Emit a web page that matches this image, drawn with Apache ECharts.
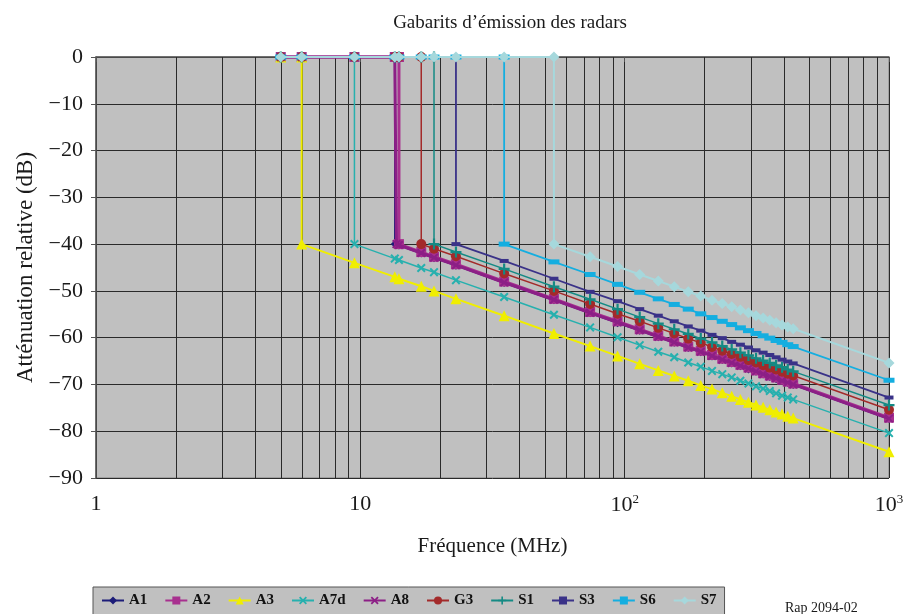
<!DOCTYPE html>
<html><head><meta charset="utf-8">
<script src="https://cdn.jsdelivr.net/npm/echarts@6/dist/echarts.min.js"></script>
<style>html,body{margin:0;padding:0;background:#fff}#c{width:908px;height:614px}</style>
</head><body><div id="c"></div>
<script>
const TITLE = 'Gabarits d’émission des radars';
const X_NAME = 'Fréquence (MHz)';
const Y_NAME = 'Atténuation relative (dB)';
const NOTE = 'Rap 2094-02';
const SERIES_NAMES = ['A1', 'A2', 'A3', 'A7d', 'A8', 'G3', 'S1', 'S3', 'S6', 'S7'];
const X_TICK_LABELS = { 0: '1', 1: '10', 2: '10{s|2}', 3: '10{s|3}' };
const MINOR_GRID_FREQS = [2, 3, 4, 5, 6, 7, 8, 9, 20, 30, 40, 50, 60, 70, 80, 90, 200, 300, 400, 500, 600, 700, 800, 900];

const A1 = [[5,0],[6,0],[9.5,0],[13.5,0],[13.5,-40],[14,-40.3],[17,-42.0],[19,-43.0],[23,-44.6],[35,-48.3],[54,-52.0],[74,-54.8],[94,-56.9],[114,-58.5],[134,-59.9],[154,-61.1],[174,-62.2],[194,-63.1],[214,-64.0],[234,-64.8],[254,-65.5],[274,-66.1],[294,-66.8],[314,-67.3],[334,-67.9],[354,-68.4],[374,-68.9],[394,-69.3],[414,-69.7],[434,-70.1],[1000,-77.4]];
const A2 = [[5,0],[6,0],[9.5,0],[13.5,0],[14,0],[14,-40],[17,-41.7],[19,-42.7],[23,-44.3],[35,-48.0],[54,-51.7],[74,-54.5],[94,-56.5],[114,-58.2],[134,-59.6],[154,-60.8],[174,-61.9],[194,-62.8],[214,-63.7],[234,-64.5],[254,-65.2],[274,-65.8],[294,-66.4],[314,-67.0],[334,-67.6],[354,-68.1],[374,-68.5],[394,-69.0],[414,-69.4],[434,-69.8],[1000,-77.1]];
const A3 = [[5,0],[6,0],[6,-40],[9.5,-44.0],[13.5,-47.0],[14,-47.4],[17,-49.0],[19,-50.0],[23,-51.7],[35,-55.3],[54,-59.1],[74,-61.8],[94,-63.9],[114,-65.6],[134,-67.0],[154,-68.2],[174,-69.2],[194,-70.2],[214,-71.0],[234,-71.8],[254,-72.5],[274,-73.2],[294,-73.8],[314,-74.4],[334,-74.9],[354,-75.4],[374,-75.9],[394,-76.3],[414,-76.8],[434,-77.2],[1000,-84.4]];
const A7d = [[5,0],[6,0],[9.5,0],[9.5,-40],[13.5,-43.1],[14,-43.4],[17,-45.1],[19,-46.0],[23,-47.7],[35,-51.3],[54,-55.1],[74,-57.8],[94,-59.9],[114,-61.6],[134,-63.0],[154,-64.2],[174,-65.3],[194,-66.2],[214,-67.1],[234,-67.8],[254,-68.5],[274,-69.2],[294,-69.8],[314,-70.4],[334,-70.9],[354,-71.4],[374,-71.9],[394,-72.4],[414,-72.8],[434,-73.2],[1000,-80.4]];
const A8 = [[5,0],[6,0],[9.5,0],[13.5,0],[13.7,0],[13.7,-40],[14,-40.2],[17,-41.9],[19,-42.9],[23,-44.5],[35,-48.2],[54,-51.9],[74,-54.7],[94,-56.7],[114,-58.4],[134,-59.8],[154,-61.0],[174,-62.1],[194,-63.0],[214,-63.9],[234,-64.7],[254,-65.4],[274,-66.0],[294,-66.6],[314,-67.2],[334,-67.8],[354,-68.3],[374,-68.7],[394,-69.2],[414,-69.6],[434,-70.0],[1000,-77.3]];
const G3 = [[5,0],[6,0],[9.5,0],[13.5,0],[14,0],[17,0],[17,-40],[19,-41.0],[23,-42.6],[35,-46.3],[54,-50.0],[74,-52.8],[94,-54.9],[114,-56.5],[134,-57.9],[154,-59.1],[174,-60.2],[194,-61.1],[214,-62.0],[234,-62.8],[254,-63.5],[274,-64.1],[294,-64.8],[314,-65.3],[334,-65.9],[354,-66.4],[374,-66.8],[394,-67.3],[414,-67.7],[434,-68.1],[1000,-75.4]];
const S1 = [[5,0],[6,0],[9.5,0],[13.5,0],[14,0],[17,0],[19,0],[19,-40],[23,-41.7],[35,-45.3],[54,-49.1],[74,-51.8],[94,-53.9],[114,-55.6],[134,-57.0],[154,-58.2],[174,-59.2],[194,-60.2],[214,-61.0],[234,-61.8],[254,-62.5],[274,-63.2],[294,-63.8],[314,-64.4],[334,-64.9],[354,-65.4],[374,-65.9],[394,-66.3],[414,-66.8],[434,-67.2],[1000,-74.4]];
const S3 = [[5,0],[6,0],[9.5,0],[13.5,0],[14,0],[17,0],[19,0],[23,0],[23,-40],[35,-43.6],[54,-47.4],[74,-50.2],[94,-52.2],[114,-53.9],[134,-55.3],[154,-56.5],[174,-57.6],[194,-58.5],[214,-59.4],[234,-60.1],[254,-60.9],[274,-61.5],[294,-62.1],[314,-62.7],[334,-63.2],[354,-63.7],[374,-64.2],[394,-64.7],[414,-65.1],[434,-65.5],[1000,-72.8]];
const S6 = [[5,0],[6,0],[9.5,0],[13.5,0],[14,0],[17,0],[19,0],[23,0],[35,0],[35,-40],[54,-43.8],[74,-46.5],[94,-48.6],[114,-50.3],[134,-51.7],[154,-52.9],[174,-53.9],[194,-54.9],[214,-55.7],[234,-56.5],[254,-57.2],[274,-57.9],[294,-58.5],[314,-59.1],[334,-59.6],[354,-60.1],[374,-60.6],[394,-61.0],[414,-61.5],[434,-61.9],[1000,-69.1]];
const S7 = [[5,0],[6,0],[9.5,0],[13.5,0],[14,0],[17,0],[19,0],[23,0],[35,0],[54,0],[54,-40],[74,-42.7],[94,-44.8],[114,-46.5],[134,-47.9],[154,-49.1],[174,-50.2],[194,-51.1],[214,-52.0],[234,-52.7],[254,-53.4],[274,-54.1],[294,-54.7],[314,-55.3],[334,-55.8],[354,-56.3],[374,-56.8],[394,-57.3],[414,-57.7],[434,-58.1],[1000,-65.4]];

const SERIES_DATA = [A1, A2, A3, A7d, A8, G3, S1, S3, S6, S7];

const X_PATH = 'path://M0,1.6 L1.6,0 L5,3.4 L8.4,0 L10,1.6 L6.6,5 L10,8.4 L8.4,10 L5,6.6 L1.6,10 L0,8.4 L3.4,5 Z';
const PLUS_PATH = 'path://M4,0 L6,0 L6,4 L10,4 L10,6 L6,6 L6,10 L4,10 L4,6 L0,6 L0,4 L4,4 Z';
const STYLES = [
  { color: '#1c1c78', symbol: 'diamond', size: 8, width: 1.5 },
  { color: '#a8308f', symbol: 'rect', size: 10, width: 3 },
  { color: '#f0ee00', symbol: 'triangle', size: 11, width: 2 },
  { color: '#26b0ae', symbol: X_PATH, size: 9, width: 1.5 },
  { color: '#8c1f86', symbol: X_PATH, size: 9, width: 3 },
  { color: '#a32a2a', symbol: 'circle', size: 10, width: 1.5 },
  { color: '#148a84', symbol: PLUS_PATH, size: 11, width: 1.5 },
  { color: '#3a3288', symbol: 'rect', size: [9, 4], width: 1.8 },
  { color: '#14aee0', symbol: 'rect', size: [11, 5], width: 1.8 },
  { color: '#a6d8dc', symbol: 'diamond', size: 11, width: 2 }
];

const FONT = '"Liberation Serif", "Times New Roman", serif';
const chart = echarts.init(document.getElementById('c'), null, { renderer: 'canvas' });

const series = [{
  type: 'custom',
  name: '_grid',
  silent: true,
  z: 1,
  data: MINOR_GRID_FREQS,
  encode: { x: 0 },
  renderItem: function (params, api) {
    const p1 = api.coord([api.value(0), 0]);
    const p2 = api.coord([api.value(0), -90]);
    return { type: 'line', shape: { x1: Math.round(p1[0]) + 0.5, y1: p1[1], x2: Math.round(p1[0]) + 0.5, y2: p2[1] }, style: { stroke: '#2a2a2a', lineWidth: 1 } };
  }
}];
SERIES_NAMES.forEach(function (n, i) {
  const s = STYLES[i];
  series.push({
    name: n, type: 'line', data: SERIES_DATA[i],
    symbol: s.symbol, symbolSize: s.size, showSymbol: true, showAllSymbol: true,
    clip: false, z: 2 + i,
    itemStyle: { color: s.color },
    lineStyle: { color: s.color, width: s.width }
  });
});

chart.setOption({
  animation: false,
  backgroundColor: '#ffffff',
  title: {
    text: TITLE, left: 505, textAlign: 'center', top: 9,
    textStyle: { fontFamily: FONT, fontSize: 19, fontWeight: 'normal', color: '#1a1a1a' }
  },
  grid: {
    left: 96, right: 19, top: 57, bottom: 136, show: true,
    backgroundColor: '#c0c0c0', borderColor: '#808080', borderWidth: 1
  },
  legend: {
    data: SERIES_NAMES, left: 93, top: 587, itemWidth: 22, itemHeight: 10, itemGap: 17,
    padding: [6, 8, 9, 8],
    backgroundColor: '#c0c0c0', borderColor: '#555', borderWidth: 1, borderRadius: 0,
    textStyle: { fontFamily: FONT, fontSize: 15, fontWeight: 'bold', color: '#111' }
  },
  xAxis: {
    type: 'log', logBase: 10, min: 1, max: 1000,
    name: X_NAME, nameLocation: 'middle', nameGap: 58,
    nameTextStyle: { fontFamily: FONT, fontSize: 21, color: '#1a1a1a' },
    axisLine: { show: true, lineStyle: { color: '#555', width: 1.5 } },
    axisTick: { show: true, length: 5, lineStyle: { color: '#555' } },
    splitLine: { show: true, lineStyle: { color: '#2a2a2a', width: 1 } },
    axisLabel: {
      margin: 15, fontFamily: FONT, fontSize: 22, color: '#1a1a1a',
      formatter: function (v) { const k = Math.round(Math.log10(v)); return X_TICK_LABELS[k] !== undefined ? X_TICK_LABELS[k] : ''; },
      rich: { s: { fontFamily: FONT, fontSize: 13, verticalAlign: 'top', padding: [0, 0, 12, 0], color: '#1a1a1a' } }
    }
  },
  yAxis: {
    type: 'value', min: -90, max: 0, interval: 10,
    name: Y_NAME, nameLocation: 'middle', nameGap: 56, nameRotate: 90,
    nameTextStyle: { fontFamily: FONT, fontSize: 23, color: '#1a1a1a' },
    axisLine: { show: true, lineStyle: { color: '#555', width: 1.5 } },
    axisTick: { show: true, length: 5, lineStyle: { color: '#555' } },
    splitLine: { show: true, lineStyle: { color: '#2a2a2a', width: 1 } },
    axisLabel: {
      margin: 13, fontFamily: FONT, fontSize: 22, color: '#1a1a1a',
      formatter: function (v) { return String(v).replace('-', '\u2212'); }
    }
  },
  graphic: [{
    type: 'text', left: 785, top: 601,
    style: { text: NOTE, font: '14px ' + FONT, fill: '#1a1a1a' }
  }],
  series: series
});
</script></body></html>
